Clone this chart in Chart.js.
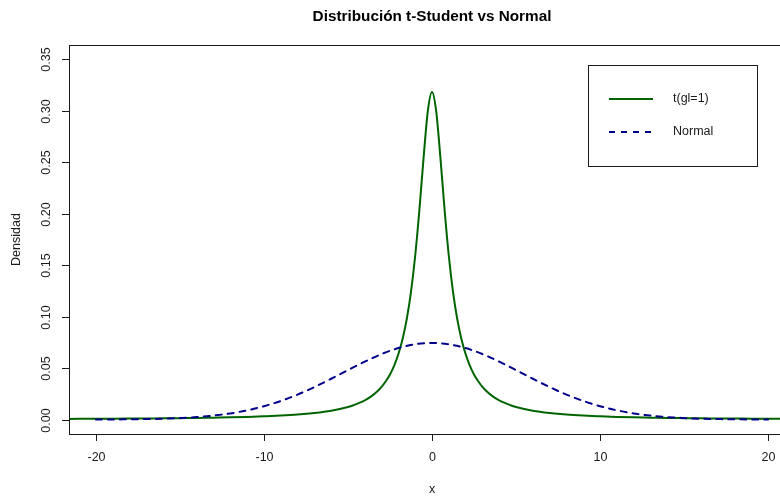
<!DOCTYPE html>
<html lang="es">
<head>
<meta charset="utf-8">
<title>Distribución t-Student vs Normal</title>
<script src="https://cdn.jsdelivr.net/npm/chart.js@4.4.1/dist/chart.umd.min.js"></script>
<style>
  html, body { margin: 0; padding: 0; overflow: hidden; background: #fff; }
  #wrap { width: 800px; height: 497px; }
</style>
</head>
<body>
<div id="wrap"><canvas id="chart" width="800" height="497"></canvas></div>
<script>
// ─── Data ─────────────────────────────────────────────────────────────────────
const xT = [
  -22, -21, -20, -19, -18, -17, -16, -15, -14, -13, -12, -11, -10, -9, -8, -7, -6,
  -5, -4.75, -4.5, -4.25, -4, -3.75, -3.5, -3.25, -3, -2.75, -2.5, -2.25, -2,
  -1.75, -1.5, -1.25, -1, -0.75, -0.5, -0.25, 0, 0.25, 0.5, 0.75, 1, 1.25, 1.5,
  1.75, 2, 2.25, 2.5, 2.75, 3, 3.25, 3.5, 3.75, 4, 4.25, 4.5, 4.75, 5,
  6, 7, 8, 9, 10, 11, 12, 13, 14, 15, 16, 17, 18, 19, 20, 21, 22
];
const yT = [
  0.00066, 0.00072, 0.0008, 0.0009, 0.0010, 0.0011, 0.0012, 0.0014, 0.0016, 0.0019, 0.0022, 0.0026, 0.0032, 0.0039, 0.0049, 0.0064, 0.0086,
  0.0122, 0.0135, 0.0150, 0.0167, 0.0187, 0.0211, 0.0240, 0.0275, 0.0318, 0.0372, 0.0439, 0.0525, 0.0637,
  0.0784, 0.0979, 0.1242, 0.1592, 0.2037, 0.2546, 0.2996, 0.3183, 0.2996, 0.2546, 0.2037, 0.1592, 0.1242, 0.0979,
  0.0784, 0.0637, 0.0525, 0.0439, 0.0372, 0.0318, 0.0275, 0.0240, 0.0211, 0.0187, 0.0167, 0.0150, 0.0135, 0.0122,
  0.0086, 0.0064, 0.0049, 0.0039, 0.0032, 0.0026, 0.0022, 0.0019, 0.0016, 0.0014, 0.0012, 0.0011, 0.0010, 0.0009, 0.0008, 0.00072, 0.00066
];
const xN = [
  -20, -19, -18, -17, -16, -15, -14, -13, -12, -11, -10, -9, -8, -7, -6, -5, -4, -3, -2, -1,
  0, 1, 2, 3, 4, 5, 6, 7, 8, 9, 10, 11, 12, 13, 14, 15, 16, 17, 18, 19, 20
];
const yN = [
  0.0001, 0.0001, 0.0003, 0.0005, 0.0008, 0.0015, 0.0024, 0.0039, 0.0060, 0.0090, 0.0130, 0.0181, 0.0243, 0.0316, 0.0397, 0.0481, 0.0563, 0.0637, 0.0695, 0.0732,
  0.0745, 0.0732, 0.0695, 0.0637, 0.0563, 0.0481, 0.0397, 0.0316, 0.0243, 0.0181, 0.0130, 0.0090, 0.0060, 0.0039, 0.0024, 0.0015, 0.0008, 0.0005, 0.0003, 0.0001, 0.0001
];
const xTicks = [-20, -10, 0, 10, 20];
const yTicks = [0, 0.05, 0.10, 0.15, 0.20, 0.25, 0.30, 0.35];
const seriesLabels = ['t(gl=1)', 'Normal'];

const GREEN = '#006400';
const BLUE  = '#00008b';
const INK   = '#1a1a1a';
const FONT  = '"Liberation Sans", Arial, sans-serif';

// ─── R-style frame, axes, titles and legend ──────────────────────────────────
const rFrame = {
  id: 'rFrame',
  afterDraw(chart) {
    const { ctx, chartArea: a, scales: { x, y } } = chart;
    ctx.save();
    ctx.strokeStyle = INK;
    ctx.lineWidth = 1;

    // box
    ctx.strokeRect(Math.round(a.left) + 0.5, Math.round(a.top) + 0.5,
                   Math.round(a.right - a.left), Math.round(a.bottom - a.top));

    // x ticks
    ctx.fillStyle = INK;
    ctx.font = '12.5px ' + FONT;
    ctx.textAlign = 'center';
    ctx.textBaseline = 'middle';
    xTicks.forEach(v => {
      const px = Math.round(x.getPixelForValue(v)) + 0.5;
      ctx.beginPath();
      ctx.moveTo(px, a.bottom);
      ctx.lineTo(px, a.bottom + 7);
      ctx.stroke();
      ctx.fillText(String(v), px, a.bottom + 24);
    });

    // y ticks (labels rotated like R)
    yTicks.forEach(v => {
      const py = Math.round(y.getPixelForValue(v)) + 0.5;
      ctx.beginPath();
      ctx.moveTo(a.left - 7, py);
      ctx.lineTo(a.left, py);
      ctx.stroke();
      ctx.save();
      ctx.translate(a.left - 22, py);
      ctx.rotate(-Math.PI / 2);
      ctx.fillText(v.toFixed(2), 0, 0);
      ctx.restore();
    });

    // axis titles
    ctx.fillText('x', (a.left + a.right) / 2, a.bottom + 56);
    ctx.save();
    ctx.translate(17, (a.top + a.bottom) / 2);
    ctx.rotate(-Math.PI / 2);
    ctx.fillText('Densidad', 0, 0);
    ctx.restore();

    // main title
    ctx.fillStyle = '#000';
    ctx.font = 'bold 15.3px ' + FONT;
    ctx.fillText('Distribución t-Student vs Normal', (a.left + a.right) / 2, 17);

    // legend
    ctx.strokeStyle = INK;
    ctx.strokeRect(588.5, 65.5, 169, 101);
    ctx.font = '12.5px ' + FONT;
    ctx.textAlign = 'left';
    ctx.fillStyle = INK;
    const rows = [
      { label: seriesLabels[0], color: GREEN, dash: [], y: 99 },
      { label: seriesLabels[1], color: BLUE,  dash: [6, 6], y: 132 },
    ];
    rows.forEach(r => {
      ctx.strokeStyle = r.color;
      ctx.lineWidth = 2;
      ctx.setLineDash(r.dash);
      ctx.beginPath();
      ctx.moveTo(609, r.y);
      ctx.lineTo(653, r.y);
      ctx.stroke();
      ctx.setLineDash([]);
      ctx.fillText(r.label, 673, r.y);
    });
    ctx.restore();
  }
};

// ─── Chart ────────────────────────────────────────────────────────────────────
const toPoints = (xs, ys) => xs.map((v, i) => ({ x: v, y: ys[i] }));

new Chart(document.getElementById('chart'), {
  type: 'line',
  data: {
    datasets: [
      {
        label: seriesLabels[0],
        data: toPoints(xT, yT),
        borderColor: GREEN,
        borderWidth: 2,
        pointRadius: 0,
        cubicInterpolationMode: 'monotone',
        order: 2,
      },
      {
        label: seriesLabels[1],
        data: toPoints(xN, yN),
        borderColor: BLUE,
        borderWidth: 2,
        borderDash: [6, 6],
        borderCapStyle: 'round',
        pointRadius: 0,
        cubicInterpolationMode: 'monotone',
        order: 1,
      }
    ]
  },
  options: {
    responsive: false,
    animation: false,
    events: [],
    layout: { padding: { left: 69, top: 45, right: 5, bottom: 63 } },
    plugins: { legend: { display: false }, title: { display: false }, tooltip: { enabled: false } },
    scales: {
      x: { type: 'linear', min: -21.6, max: 21.6, display: false },
      y: { type: 'linear', min: -0.014, max: 0.364, display: false }
    }
  },
  plugins: [rFrame]
});
</script>
</body>
</html>
